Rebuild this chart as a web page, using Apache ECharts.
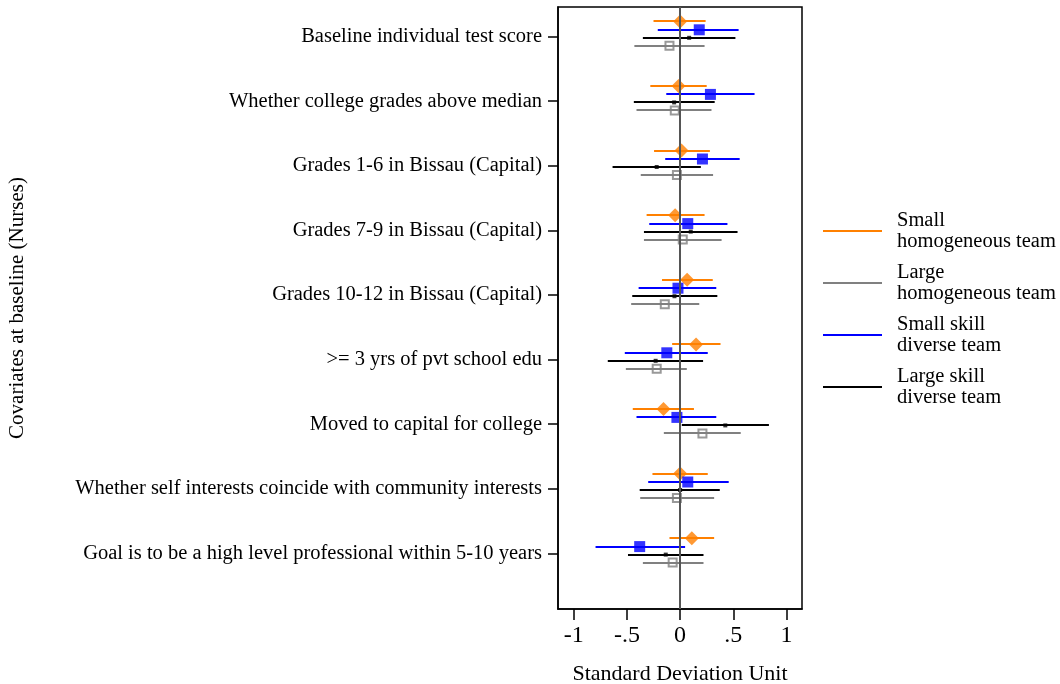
<!DOCTYPE html>
<html>
<head>
<meta charset="utf-8">
<script src="https://cdn.jsdelivr.net/npm/echarts@6/dist/echarts.min.js"></script>
<style>
  html, body { margin: 0; padding: 0; background: #ffffff; }
  #chart { width: 1060px; height: 684px; }
</style>
</head>
<body>
<div id="chart"></div>
<script>
// Baseline covariates (top to bottom)
const covariates = [
  'Baseline individual test score',
  'Whether college grades above median',
  'Grades 1-6 in Bissau (Capital)',
  'Grades 7-9 in Bissau (Capital)',
  'Grades 10-12 in Bissau (Capital)',
  '>= 3 yrs of pvt school edu',
  'Moved to capital for college',
  'Whether self interests coincide with community interests',
  'Goal is to be a high level professional within 5-10 years'
];

// Point estimates and confidence bounds, in standard deviation units
const smallHomEst = [0.0, -0.015, 0.013, -0.047, 0.066, 0.15, -0.156, 0.0, 0.11];
const smallHomLo  = [-0.25, -0.28, -0.245, -0.315, -0.17, -0.075, -0.445, -0.26, -0.10];
const smallHomHi  = [0.24, 0.25, 0.28, 0.23, 0.307, 0.38, 0.13, 0.26, 0.32];

const smallDivEst = [0.18, 0.285, 0.21, 0.072, -0.02, -0.125, -0.03, 0.072, -0.38];
const smallDivLo  = [-0.21, -0.13, -0.14, -0.29, -0.39, -0.52, -0.41, -0.30, -0.795];
const smallDivHi  = [0.55, 0.70, 0.56, 0.445, 0.34, 0.26, 0.34, 0.457, 0.047];

const largeDivEst = [0.085, -0.056, -0.22, 0.10, -0.053, -0.23, 0.425, 0.0, -0.135];
const largeDivLo  = [-0.35, -0.435, -0.635, -0.34, -0.45, -0.68, 0.016, -0.38, -0.49];
const largeDivHi  = [0.52, 0.325, 0.195, 0.54, 0.35, 0.216, 0.835, 0.373, 0.22];

const largeHomEst = [-0.10, -0.05, -0.03, 0.025, -0.144, -0.22, 0.21, -0.03, -0.07];
const largeHomLo  = [-0.43, -0.41, -0.37, -0.34, -0.46, -0.51, -0.153, -0.375, -0.35];
const largeHomHi  = [0.23, 0.295, 0.31, 0.39, 0.18, 0.063, 0.57, 0.32, 0.22];

const xTicks = [-1, -0.5, 0, 0.5, 1];
const xTickLabels = ['-1', '-.5', '0', '.5', '1'];
const yTitle = 'Covariates at baseline (Nurses)';
const xTitle = 'Standard Deviation Unit';

const FONT = '"Liberation Serif", "DejaVu Serif", serif';

// Each group sits at row (i + 1) with a small vertical offset
const groups = [
  { name: 'Small homogeneous team', est: smallHomEst, lo: smallHomLo, hi: smallHomHi,
    color: '#ff8000', offset: -0.234, symbol: 'diamond', size: [14, 14], hollow: false },
  { name: 'Small skill diverse team', est: smallDivEst, lo: smallDivLo, hi: smallDivHi,
    color: '#0000ff', offset: -0.104, symbol: 'rect', size: [11, 11], hollow: false },
  { name: 'Large skill diverse team', est: largeDivEst, lo: largeDivLo, hi: largeDivHi,
    color: '#000000', offset: 0.02, symbol: 'rect', size: [4, 4], hollow: false },
  { name: 'Large homogeneous team', est: largeHomEst, lo: largeHomLo, hi: largeHomHi,
    color: '#808080', offset: 0.144, symbol: 'rect', size: [8, 8], hollow: true }
];

const legendOrder = [
  'Small homogeneous team',
  'Large homogeneous team',
  'Small skill diverse team',
  'Large skill diverse team'
];
const legendText = {
  'Small homogeneous team': 'Small\nhomogeneous team',
  'Large homogeneous team': 'Large\nhomogeneous team',
  'Small skill diverse team': 'Small skill\ndiverse team',
  'Large skill diverse team': 'Large skill\ndiverse team'
};

const series = [];

// zero reference line
series.push({
  type: 'line',
  data: [],
  silent: true,
  markLine: {
    symbol: 'none',
    silent: true,
    label: { show: false },
    lineStyle: { color: '#555555', width: 2, type: 'solid' },
    data: [{ xAxis: 0 }]
  },
  z: 1
});

groups.forEach(g => {
  const ciData = g.est.map((_, i) => [g.lo[i], g.hi[i], i + 1 + g.offset]);
  const ptData = g.est.map((v, i) => [v, i + 1 + g.offset]);
  series.push({
    name: g.name,
    type: 'custom',
    itemStyle: { color: g.color },
    encode: { x: [0, 1], y: 2 },
    renderItem: function (params, api) {
      const p0 = api.coord([api.value(0), api.value(2)]);
      const p1 = api.coord([api.value(1), api.value(2)]);
      const y = Math.round(p0[1]);
      return {
        type: 'line',
        shape: { x1: p0[0], y1: y, x2: p1[0], y2: y },
        style: { stroke: g.color, lineWidth: 2 }
      };
    },
    data: ciData,
    z: 3
  });
  series.push({
    name: g.name,
    type: 'scatter',
    symbol: g.symbol,
    symbolSize: g.size,
    itemStyle: g.hollow
      ? { color: 'rgba(0,0,0,0)', borderColor: g.color, borderWidth: 2 }
      : { color: g.color },
    data: ptData,
    z: 4
  });
});

const chart = echarts.init(document.getElementById('chart'), null, { renderer: 'canvas' });
chart.setOption({
  animation: false,
  backgroundColor: '#ffffff',
  grid: {
    left: 558, right: 258, top: 7, bottom: 75,
    containLabel: false,
    outerBoundsMode: 'none',
    show: true, borderColor: '#000000', borderWidth: 1.5, backgroundColor: '#ffffff'
  },
  legend: {
    orient: 'vertical',
    left: 823,
    top: 210,
    padding: 0,
    itemWidth: 59,
    itemHeight: 2,
    itemGap: 10,
    icon: 'rect',
    selectedMode: false,
    data: legendOrder.map(n => ({
      name: n,
      itemStyle: { color: groups.find(g => g.name === n).color, borderWidth: 0 }
    })),
    formatter: n => legendText[n],
    textStyle: { fontFamily: FONT, fontSize: 20.5, color: '#000', lineHeight: 21, padding: [0, 0, 0, 10] }
  },
  xAxis: {
    type: 'value',
    min: -1.148,
    max: 1.146,
    name: xTitle,
    nameLocation: 'middle',
    nameGap: 54,
    nameTextStyle: { fontFamily: FONT, fontSize: 22, color: '#000' },
    axisLine: { show: true, onZero: false, lineStyle: { color: '#000', width: 1.5 } },
    axisTick: { show: true, length: 11, lineStyle: { color: '#000', width: 1.5 }, customValues: xTicks },
    axisLabel: {
      customValues: xTicks,
      margin: 15,
      fontFamily: FONT, fontSize: 24, color: '#000',
      formatter: v => {
        const idx = xTicks.findIndex(t => Math.abs(t - v) < 1e-9);
        return idx >= 0 ? xTickLabels[idx] : '';
      }
    },
    splitLine: { show: false }
  },
  yAxis: {
    type: 'value',
    inverse: true,
    min: 0.543,
    max: 9.862,
    name: yTitle,
    nameLocation: 'middle',
    nameGap: 530,
    nameRotate: 90,
    nameTextStyle: { fontFamily: FONT, fontSize: 21, color: '#000' },
    axisLine: { show: true, onZero: false, lineStyle: { color: '#000', width: 1.5 } },
    axisTick: { show: true, length: 10, lineStyle: { color: '#000', width: 1.5 },
      customValues: covariates.map((_, i) => i + 1) },
    axisLabel: {
      customValues: covariates.map((_, i) => i + 1),
      margin: 16,
      fontFamily: FONT, fontSize: 20.5, color: '#000',
      formatter: v => {
        const k = Math.round(v);
        return Math.abs(k - v) < 1e-6 && k >= 1 && k <= covariates.length ? covariates[k - 1] : '';
      }
    },
    splitLine: { show: false }
  },
  series: series
});
</script>
</body>
</html>
